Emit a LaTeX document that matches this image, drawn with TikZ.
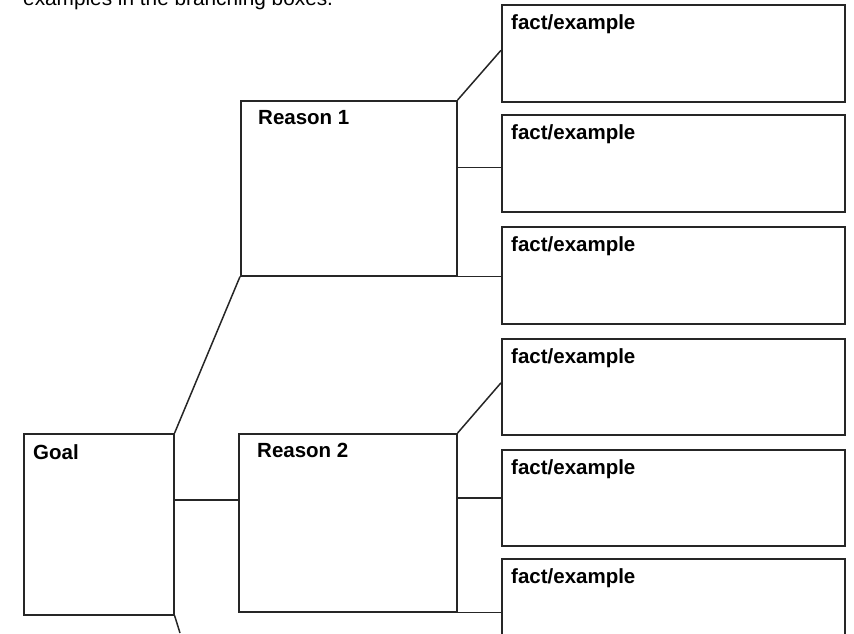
\documentclass[tikz,border=0pt]{standalone}
\usepackage{fontspec}
\setmainfont{Liberation Sans}
\usetikzlibrary{positioning,calc}

\begin{document}
\begin{tikzpicture}[x=1pt,y=-1pt,
  panel/.style={draw=black!85, line width=1.6pt, inner sep=0pt, anchor=north west},
  tag/.style={anchor=base west, inner sep=0pt, font=\fontsize{20.5}{24}\selectfont\bfseries},
  link/.style={draw=black!85, line width=1.5pt}]
% the page is 854 x 633, one unit is one pixel of the scan
\useasboundingbox (0,0) rectangle (854,633);
% cut off line of the instruction above the diagram
\node[anchor=base west, inner sep=0pt, font=\fontsize{20.8}{24}\selectfont] (intro) at (23,5) {examples in the branching boxes.};
% goal and the two reasons
\node[panel, minimum width=150pt, minimum height=181pt] (goal) at (23,433) {};
\node[panel, minimum width=216pt, minimum height=175pt] (reasonA) at (240,100) {};
\node[panel, minimum width=218pt, minimum height=178pt] (reasonB) at (238,433) {};
\node[tag] (goaltxt) at ([shift={(10,26)}]goal.north west) {Goal};
\node[tag] (reasonAtxt) at ([shift={(18,24)}]reasonA.north west) {Reason 1};
\node[tag] (reasonBtxt) at ([shift={(19,24)}]reasonB.north west) {Reason 2};
% the six fact boxes on the right, the last one runs off the page
\foreach \n/\y/\h in {1/4/97, 2/114/97, 3/226/97, 4/338/96, 5/449/96, 6/558/100} {
  \node[panel, minimum width=343pt, minimum height=\h pt] (fact\n) at (501,\y) {};
  \node[tag] (fact\n txt) at ([shift={(10,25)}]fact\n.north west) {fact/example};
}
% branches from the goal
\coordinate (goalmid) at ([yshift=-67pt]goal.north east);
\coordinate (goalout) at (180,633);
\draw[link] (goal.north east) -- (reasonA.south west);
\draw[link] (goalmid) -- (goalmid -| reasonB.west);
\draw[link] (goal.south east) -- (goalout);
% branches from reason 1
\draw[link] (reasonA.north east) -- ([yshift=3pt]fact1.west);
\draw[link] ([yshift=-4pt]fact2.west -| reasonA.east) -- ([yshift=-4pt]fact2.west);
\draw[link] (reasonA.south east) -- (reasonA.south east -| fact3.west);
% branches from reason 2
\draw[link] (reasonB.north east) -- ([yshift=4pt]fact4.west);
\draw[link] (fact5.west -| reasonB.east) -- (fact5.west);
\draw[link] (reasonB.south east) -- (reasonB.south east -| fact6.west);
\end{tikzpicture}
\end{document}
